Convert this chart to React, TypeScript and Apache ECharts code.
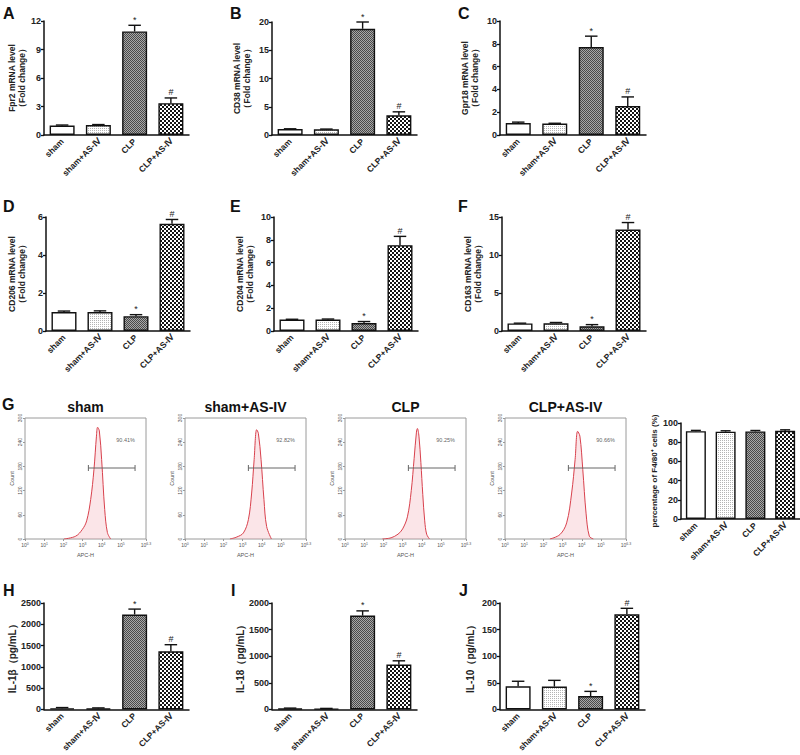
import React, { useEffect, useRef } from "react";
import * as echarts from "echarts";

// ---------- data ----------
const groups = ["sham", "sham+AS-Ⅳ", "CLP", "CLP+AS-Ⅳ"];
const sigMarks = ["", "", "*", "#"];
const noMarks = ["", "", "", ""];

const fpr2Mean = [1.0, 1.05, 10.9, 3.35];
const fpr2Err = [0.05, 0.05, 0.65, 0.55];
const cd38Mean = [1.05, 1.0, 18.8, 3.5];
const cd38Err = [0.05, 0.05, 1.2, 0.6];
const gpr18Mean = [1.05, 1.0, 7.72, 2.54];
const gpr18Err = [0.08, 0.03, 0.95, 0.8];
const cd206Mean = [1.0, 1.0, 0.78, 5.64];
const cd206Err = [0.05, 0.06, 0.08, 0.23];
const cd204Mean = [1.0, 1.0, 0.7, 7.53];
const cd204Err = [0.03, 0.05, 0.13, 0.77];
const cd163Mean = [1.0, 1.02, 0.62, 13.35];
const cd163Err = [0.03, 0.1, 0.22, 0.92];
const f480Mean = [91.5, 91.0, 91.2, 91.8];
const f480Err = [0.8, 0.9, 1.0, 1.1];
const il1bMean = [30, 25, 2230, 1365];
const il1bErr = [15, 12, 127, 156];
const il18Mean = [20, 15, 1763, 843];
const il18Err = [6, 5, 89, 71];
const il10Mean = [43.5, 43, 25.3, 178.8];
const il10Err = [9.5, 11.7, 8.7, 11.2];

// flow cytometry histograms: [log10(APC-H), count]
const flowTitles = ["sham", "sham+AS-IV", "CLP", "CLP+AS-IV"];
const flowPercents = ["90.41%", "92.82%", "90.25%", "90.66%"];
const flowTickValues = [0, 1, 2, 3, 4, 5, 6.3];
const shamHist = [[2.03, 0], [2.64, 7], [2.99, 24], [3.21, 45], [3.42, 98], [3.59, 172], [3.72, 255], [3.78, 277], [3.87, 268], [3.99, 197], [4.15, 73], [4.29, 16], [4.46, 0]];
const shamAsHist = [[2.34, 0], [2.7, 5], [3.04, 15], [3.3, 48], [3.47, 114], [3.6, 197], [3.73, 271], [3.82, 262], [3.96, 197], [4.11, 98], [4.25, 31], [4.5, 0]];
const clpHist = [[1.95, 0], [2.4, 3], [2.76, 12], [3.0, 25], [3.25, 55], [3.45, 120], [3.6, 200], [3.72, 265], [3.77, 274], [3.85, 255], [3.95, 190], [4.05, 110], [4.15, 45], [4.25, 12], [4.4, 0]];
const clpAsHist = [[2.34, 0], [2.86, 11], [3.21, 40], [3.47, 114], [3.65, 197], [3.78, 267], [3.9, 255], [4.05, 172], [4.22, 64], [4.39, 7], [4.6, 0]];
const gateRange = [3.3, 5.73];
const gateCount = 176;
const percentAnchor = [5.24, 246];

const FONT = "'Liberation Sans', Arial, Helvetica, sans-serif";

function makeTile(size: number, draw: (ctx: CanvasRenderingContext2D) => void) {
  const c = document.createElement("canvas");
  c.width = size;
  c.height = size;
  const ctx = c.getContext("2d") as CanvasRenderingContext2D;
  draw(ctx);
  return c;
}

export default function App() {
  const ref = useRef<HTMLDivElement>(null);

  useEffect(() => {
    if (!ref.current) return;
    const chart = echarts.init(ref.current, undefined, { renderer: "svg" });

    const dots = makeTile(2, (ctx) => {
      ctx.fillStyle = "#ffffff";
      ctx.fillRect(0, 0, 2, 2);
      ctx.fillStyle = "#b4b4b4";
      ctx.fillRect(0, 0, 1, 1);
    });
    const fine = makeTile(2, (ctx) => {
      ctx.fillStyle = "#a8a8a8";
      ctx.fillRect(0, 0, 2, 2);
      ctx.fillStyle = "#4a4a4a";
      ctx.fillRect(0, 0, 1, 1);
      ctx.fillRect(1, 1, 1, 1);
    });
    const coarse = makeTile(4, (ctx) => {
      ctx.fillStyle = "#ffffff";
      ctx.fillRect(0, 0, 4, 4);
      ctx.fillStyle = "#141414";
      ctx.fillRect(0, 0, 2, 2);
      ctx.fillRect(2, 2, 2, 2);
    });
    const fills: any[] = [
      "#ffffff",
      { image: dots, repeat: "repeat" },
      { image: fine, repeat: "repeat" },
      { image: coarse, repeat: "repeat" },
    ];

    const barPanels = [
      { letter: "A", lp: [3, 5], name: "Fpr2 mRNA level\n（Fold change）", nfs: 8.5, means: fpr2Mean, errs: fpr2Err, marks: sigMarks, max: 12, interval: 3, grid: { left: 44, top: 21, width: 145, height: 114 }, gap: 16, bw: 25 },
      { letter: "B", lp: [230, 5], name: "CD38 mRNA level\n（Fold change）", nfs: 8.5, means: cd38Mean, errs: cd38Err, marks: sigMarks, max: 20, interval: 5, grid: { left: 272, top: 22, width: 145, height: 113 }, gap: 20, bw: 25 },
      { letter: "C", lp: [458, 5], name: "Gpr18 mRNA level\n（Fold change）", nfs: 8.5, means: gpr18Mean, errs: gpr18Err, marks: sigMarks, max: 10, interval: 2, grid: { left: 500, top: 21, width: 146, height: 114 }, gap: 20, bw: 25 },
      { letter: "D", lp: [3, 198], name: "CD206 mRNA level\n（Fold change）", nfs: 8.5, means: cd206Mean, errs: cd206Err, marks: sigMarks, max: 6, interval: 2, grid: { left: 46, top: 217, width: 144, height: 114 }, gap: 19, bw: 25 },
      { letter: "E", lp: [230, 198], name: "CD204 mRNA level\n（Fold change）", nfs: 8.5, means: cd204Mean, errs: cd204Err, marks: sigMarks, max: 10, interval: 2, grid: { left: 274, top: 217, width: 144, height: 114 }, gap: 19, bw: 25 },
      { letter: "F", lp: [458, 198], name: "CD163 mRNA level\n（Fold change）", nfs: 8.5, means: cd163Mean, errs: cd163Err, marks: sigMarks, max: 15, interval: 5, grid: { left: 502, top: 217, width: 144, height: 114 }, gap: 19, bw: 25 },
      { letter: "", lp: [0, 0], name: "percentage of F4/80⁺ cells (%)", nfs: 8, means: f480Mean, errs: f480Err, marks: noMarks, max: 100, interval: 20, grid: { left: 681, top: 423, width: 119, height: 96 }, gap: 19, bw: 20 },
      { letter: "H", lp: [3, 582], name: "IL-1β（pg/mL）", nfs: 10, means: il1bMean, errs: il1bErr, marks: sigMarks, max: 2500, interval: 500, grid: { left: 44, top: 603, width: 145, height: 113 }, gap: 26, bw: 25 },
      { letter: "I", lp: [231, 582], name: "IL-18（pg/mL）", nfs: 10, means: il18Mean, errs: il18Err, marks: sigMarks, max: 2000, interval: 500, grid: { left: 272, top: 603, width: 145, height: 113 }, gap: 27, bw: 25 },
      { letter: "J", lp: [459, 582], name: "IL-10（pg/mL）", nfs: 10, means: il10Mean, errs: il10Err, marks: sigMarks, max: 200, interval: 50, grid: { left: 500, top: 603, width: 145, height: 114 }, gap: 25, bw: 25 },
    ];

    const flowPanels = [
      { left: 25, hist: shamHist },
      { left: 185, hist: shamAsHist },
      { left: 345, hist: clpHist },
      { left: 505, hist: clpAsHist },
    ];

    const grids: any[] = [];
    const xAxes: any[] = [];
    const yAxes: any[] = [];
    const series: any[] = [];
    const graphics: any[] = [];

    barPanels.forEach((p, gi) => {
      grids.push({ ...p.grid });
      xAxes.push({
        type: "category",
        gridIndex: gi,
        data: groups,
        axisLine: { lineStyle: { color: "#111", width: 1.5 } },
        axisTick: { show: false },
        axisLabel: { interval: 0, rotate: 45, fontSize: 8.5, fontWeight: "bold", color: "#222", fontFamily: FONT, margin: 5 },
      });
      yAxes.push({
        type: "value",
        gridIndex: gi,
        min: 0,
        max: p.max,
        interval: p.interval,
        axisLine: { show: true, lineStyle: { color: "#111", width: 1.5 } },
        axisTick: { show: true, length: 3, lineStyle: { color: "#111", width: 1.3 } },
        splitLine: { show: false },
        axisLabel: { fontSize: 9, fontWeight: "bold", color: "#222", fontFamily: FONT, margin: 3, formatter: (v: number) => String(v) },
        name: p.name,
        nameLocation: "middle",
        nameRotate: 90,
        nameGap: p.gap,
        nameTextStyle: { fontSize: p.nfs, fontWeight: "bold", color: "#222", fontFamily: FONT, lineHeight: 10 },
      });
      series.push({
        type: "bar",
        xAxisIndex: gi,
        yAxisIndex: gi,
        barWidth: p.bw,
        itemStyle: { borderColor: "#111", borderWidth: 1.4 },
        data: p.means.map((v, i) => ({ value: v, itemStyle: { color: fills[i] } })),
      });
      const marks = p.marks;
      series.push({
        type: "custom",
        xAxisIndex: gi,
        yAxisIndex: gi,
        z: 5,
        data: p.means.map((v, i) => [i, v, v + p.errs[i]]),
        encode: { x: 0, y: [1, 2] },
        renderItem: (params: any, api: any) => {
          const base = api.coord([api.value(0), api.value(1)]);
          const top = api.coord([api.value(0), api.value(2)]);
          const cap = p.bw * 0.5;
          const children: any[] = [
            { type: "line", shape: { x1: base[0], y1: base[1], x2: base[0], y2: top[1] }, style: { stroke: "#111", lineWidth: 1.4 } },
            { type: "line", shape: { x1: base[0] - cap / 2, y1: top[1], x2: base[0] + cap / 2, y2: top[1] }, style: { stroke: "#111", lineWidth: 1.4 } },
          ];
          const mk = marks[params.dataIndex];
          if (mk) {
            children.push({
              type: "text",
              x: base[0],
              y: top[1] - 1,
              style: { text: mk, align: "center", verticalAlign: "bottom", textAlign: "center", textVerticalAlign: "bottom", fontSize: 9, fontFamily: FONT, fill: "#222" },
            });
          }
          return { type: "group", children };
        },
      });
      if (p.letter) {
        graphics.push({
          type: "text",
          x: p.lp[0],
          y: p.lp[1],
          style: { text: p.letter, fontSize: 16, fontWeight: "bold", fontFamily: FONT, fill: "#111", verticalAlign: "top", textVerticalAlign: "top" },
        });
      }
    });

    graphics.push({
      type: "text",
      x: 2,
      y: 396,
      style: { text: "G", fontSize: 16, fontWeight: "bold", fontFamily: FONT, fill: "#111", verticalAlign: "top", textVerticalAlign: "top" },
    });

    flowPanels.forEach((fp, k) => {
      const gi = barPanels.length + k;
      grids.push({ left: fp.left, top: 418, width: 121, height: 121, show: true, borderColor: "#9a9a9a", borderWidth: 1, backgroundColor: "rgba(0,0,0,0)" });
      xAxes.push({
        type: "value",
        gridIndex: gi,
        min: 0,
        max: 6.3,
        axisLine: { show: false },
        splitLine: { show: false },
        axisTick: { show: true, customValues: flowTickValues, length: 2, lineStyle: { color: "#999" } },
        axisLabel: {
          customValues: flowTickValues,
          fontSize: 5,
          color: "#555",
          margin: 3,
          fontFamily: FONT,
          formatter: (v: number) => "10{s|" + (Math.abs(v - 6.3) < 0.01 ? "6.3" : String(Math.round(v))) + "}",
          rich: { s: { fontSize: 3.5, verticalAlign: "top", color: "#555", fontFamily: FONT } },
        },
        name: "APC-H",
        nameLocation: "middle",
        nameGap: 13,
        nameTextStyle: { fontSize: 5.5, color: "#555", fontFamily: FONT },
      });
      yAxes.push({
        type: "value",
        gridIndex: gi,
        min: 0,
        max: 300,
        interval: 60,
        axisLine: { show: false },
        splitLine: { show: false },
        axisTick: { show: true, length: 2, lineStyle: { color: "#999" } },
        axisLabel: { rotate: 90, fontSize: 5, color: "#555", margin: 3, fontFamily: FONT },
        name: "Count",
        nameLocation: "middle",
        nameRotate: 90,
        nameGap: 10,
        nameTextStyle: { fontSize: 5.5, color: "#555", fontFamily: FONT },
      });
      series.push({
        type: "line",
        xAxisIndex: gi,
        yAxisIndex: gi,
        data: fp.hist,
        smooth: 0.35,
        showSymbol: false,
        lineStyle: { color: "#d8404c", width: 1 },
        areaStyle: { color: "rgba(240,150,160,0.35)" },
      });
      series.push({
        type: "line",
        xAxisIndex: gi,
        yAxisIndex: gi,
        data: gateRange.map((x) => [x, gateCount]),
        symbol: "rect",
        symbolSize: [1, 6],
        showSymbol: true,
        lineStyle: { color: "#666", width: 1 },
        itemStyle: { color: "#666" },
      });
      series.push({
        type: "scatter",
        xAxisIndex: gi,
        yAxisIndex: gi,
        data: [percentAnchor],
        symbolSize: 0.1,
        itemStyle: { color: "rgba(0,0,0,0)" },
        label: { show: true, position: "inside", formatter: flowPercents[k], fontSize: 5.5, color: "#333", fontFamily: FONT },
      });
      graphics.push({
        type: "text",
        x: fp.left + 60.5,
        y: 400,
        style: { text: flowTitles[k], fontSize: 14, fontWeight: "bold", fontFamily: FONT, fill: "#111", align: "center", textAlign: "center", verticalAlign: "top", textVerticalAlign: "top" },
      });
    });

    chart.setOption({
      animation: false,
      backgroundColor: "#ffffff",
      grid: grids,
      xAxis: xAxes,
      yAxis: yAxes,
      series,
      graphic: graphics,
    });

    return () => chart.dispose();
  }, []);

  return <div ref={ref} style={{ position: "absolute", left: 0, top: 0, width: 800, height: 755, background: "#fff" }} />;
}
